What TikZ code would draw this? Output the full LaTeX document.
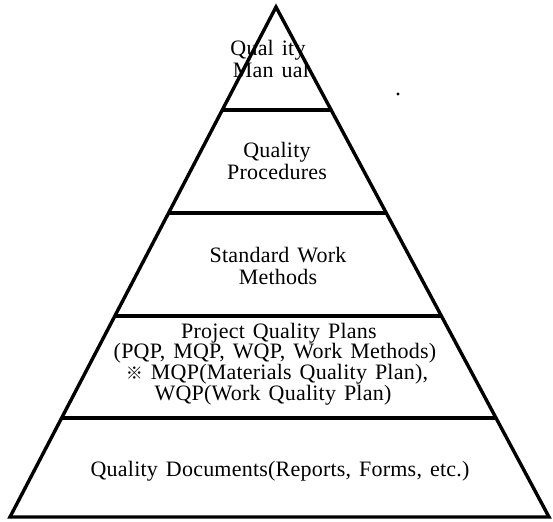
\documentclass[tikz,border=0pt]{standalone}
\usepackage{fontspec}
\setmainfont{Liberation Serif}[LetterSpace=1, WordSpace=1.4]
\newfontfamily\cjk{Noto Sans CJK SC}
\usetikzlibrary{calc}

\tikzset{
  edge/.style={line width=3.4pt, line join=miter},
  tierline/.style={line width=3.2pt},
  label/.style={anchor=base, inner sep=0pt, font=\fontsize{22}{24}\selectfont},
}

\begin{document}
\begin{tikzpicture}[x=1pt, y=-1pt]
  \useasboundingbox (0,0) rectangle (553,521);

  % outline of the pyramid
  \coordinate (A) at (276,7);
  \coordinate (L) at (10,517);
  \coordinate (R) at (549,517);
  \draw[edge] (A) -- (L) -- (R) -- cycle;

  % tier boundaries (fraction of the height from the apex)
  \foreach \n/\t in {1/0.2020, 2/0.4039, 3/0.6059, 4/0.8059}{
    \coordinate (l\n) at ($(A)!\t!(L)$);
    \coordinate (r\n) at ($(A)!\t!(R)$);
    \draw[tierline] (l\n) -- (r\n);
  }

  % tier 1
  \node[label] (m1) at (268,56) {Qual ity};
  \node[label] (m2) at (271,78) {Man ual};

  % tier 2
  \node[label] (p1) at (277,158) {Quality};
  \node[label] (p2) at (277,180) {Procedures};

  % tier 3
  \node[label] (s1) at (278,262) {Standard Work};
  \node[label] (s2) at (278,284) {Methods};

  % tier 4
  \node[label] (q1) at (279,338) {Project Quality Plans};
  \node[label] (q2) at (275,358) {(PQP, MQP, WQP, Work Methods)};
  \node[label] (q3) at (277,379) {{\cjk\fontsize{17}{20}\selectfont ※}\ MQP(Materials Quality Plan),};
  \node[label] (q4) at (273,400) {WQP(Work Quality Plan)};

  % tier 5
  \node[label] (d1) at (280,476) {Quality Documents(Reports, Forms, etc.)};

  % stray speck
  \fill (398,94) circle (1.6);
\end{tikzpicture}
\end{document}
